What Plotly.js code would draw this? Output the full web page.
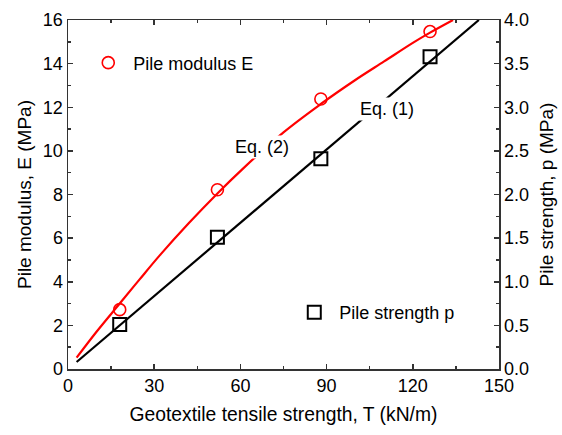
<!DOCTYPE html>
<html>
<head>
<meta charset="utf-8">
<script src="https://cdn.plot.ly/plotly-3.0.1.min.js"></script>
<style>html,body{margin:0;padding:0;background:#fff;}#chart{width:562px;height:435px;}</style>
</head>
<body>
<div id="chart"></div>
<script>
// Measured data points
const tensileT = [18, 52, 88, 126];
const modulusE = [2.72, 8.22, 12.38, 15.47];      // MPa (left axis)
const strengthP = [0.51, 1.51, 2.41, 3.58];       // MPa (right axis)

// Eq. (2) fitted curve
const eq2T = [3, 10, 18, 25, 32, 42, 52, 61, 75, 88, 100, 110, 120, 126, 134];
const eq2E = [0.52, 1.72, 3.0, 4.12, 5.22, 6.68, 8.05, 9.2, 10.85, 12.15, 13.25, 14.1, 14.95, 15.42, 16.0];

// Eq. (1) fitted line
const eq1T = [3, 143];
const eq1P = [0.08, 4.0];

const xTicks = [0, 30, 60, 90, 120, 150];
const yTicks = [0, 2, 4, 6, 8, 10, 12, 14, 16];
const y2Ticks = [0, 0.5, 1.0, 1.5, 2.0, 2.5, 3.0, 3.5, 4.0];

const FONT = 'Liberation Sans, Arial, sans-serif';
const AX = '#333333';
const NB = '\u00a0';

const traces = [
  {x: eq2T, y: eq2E, mode: 'lines', line: {color: '#ff0000', width: 2.2, shape: 'spline'}, showlegend: false, hoverinfo: 'skip'},
  {x: eq1T, y: eq1P, yaxis: 'y2', mode: 'lines', line: {color: '#000000', width: 2.2}, showlegend: false, hoverinfo: 'skip'},
  {x: tensileT, y: modulusE, mode: 'markers', name: NB + 'Pile modulus E',
   marker: {symbol: 'circle-open', size: 12, color: '#ff0000', line: {width: 1.6, color: '#ff0000'}}, legend: 'legend'},
  {x: tensileT, y: strengthP, yaxis: 'y2', mode: 'markers', name: NB + 'Pile strength p',
   marker: {symbol: 'square-open', size: 13, color: '#000000', line: {width: 2, color: '#000000'}}, legend: 'legend2'}
];

const layout = {
  width: 562, height: 435,
  margin: {l: 68, r: 63, t: 20, b: 66},
  paper_bgcolor: '#ffffff', plot_bgcolor: '#ffffff',
  font: {family: FONT, size: 18, color: '#000'},
  xaxis: {
    range: [0, 150], tickvals: xTicks, ticktext: xTicks.map(String),
    ticks: 'inside', ticklen: 5, tickwidth: 1.5, tickcolor: AX,
    minor: {dtick: 15, ticks: 'inside', ticklen: 3, tickwidth: 1.5, tickcolor: AX},
    showline: true, linecolor: AX, linewidth: 1.5, mirror: 'ticks',
    showgrid: false, zeroline: false,
    tickfont: {size: 18},
    title: {text: 'Geotextile tensile strength, T (kN/m)', font: {size: 19.3}, standoff: 12}
  },
  yaxis: {
    range: [0, 16], tickvals: yTicks, ticktext: yTicks.map(String),
    ticks: 'inside', ticklen: 5, tickwidth: 1.5, tickcolor: AX,
    minor: {dtick: 1, ticks: 'inside', ticklen: 3, tickwidth: 1.5, tickcolor: AX},
    showline: true, linecolor: AX, linewidth: 1.5,
    showgrid: false, zeroline: false,
    tickfont: {size: 18},
    title: {text: 'Pile modulus, E (MPa)', font: {size: 19}, standoff: 6}
  },
  yaxis2: {
    overlaying: 'y', side: 'right',
    range: [0, 4], tickvals: y2Ticks, ticktext: y2Ticks.map(v => v.toFixed(1)),
    ticks: 'inside', ticklen: 5, tickwidth: 1.5, tickcolor: AX,
    minor: {dtick: 0.25, ticks: 'inside', ticklen: 3, tickwidth: 1.5, tickcolor: AX},
    showline: true, linecolor: AX, linewidth: 1.5,
    showgrid: false, zeroline: false,
    tickfont: {size: 18},
    title: {text: 'Pile strength, p (MPa)', font: {size: 19}, standoff: 11}
  },
  legend: {x: 0.047, y: 0.93, xanchor: 'left', yanchor: 'top', bgcolor: 'rgba(0,0,0,0)', font: {size: 18}},
  legend2: {x: 0.525, y: 0.215, xanchor: 'left', yanchor: 'top', bgcolor: 'rgba(0,0,0,0)', font: {size: 18}},
  annotations: [
    {x: 67.6, y: 10.2, xref: 'x', yref: 'y', text: 'Eq. (2)', showarrow: false, bgcolor: '#ffffff', font: {size: 18}, borderpad: 1},
    {x: 111, y: 11.9, xref: 'x', yref: 'y', text: 'Eq. (1)', showarrow: false, bgcolor: '#ffffff', font: {size: 18}, borderpad: 1}
  ],
  showlegend: true
};

Plotly.newPlot('chart', traces, layout, {displayModeBar: false, staticPlot: true});
</script>
</body>
</html>
